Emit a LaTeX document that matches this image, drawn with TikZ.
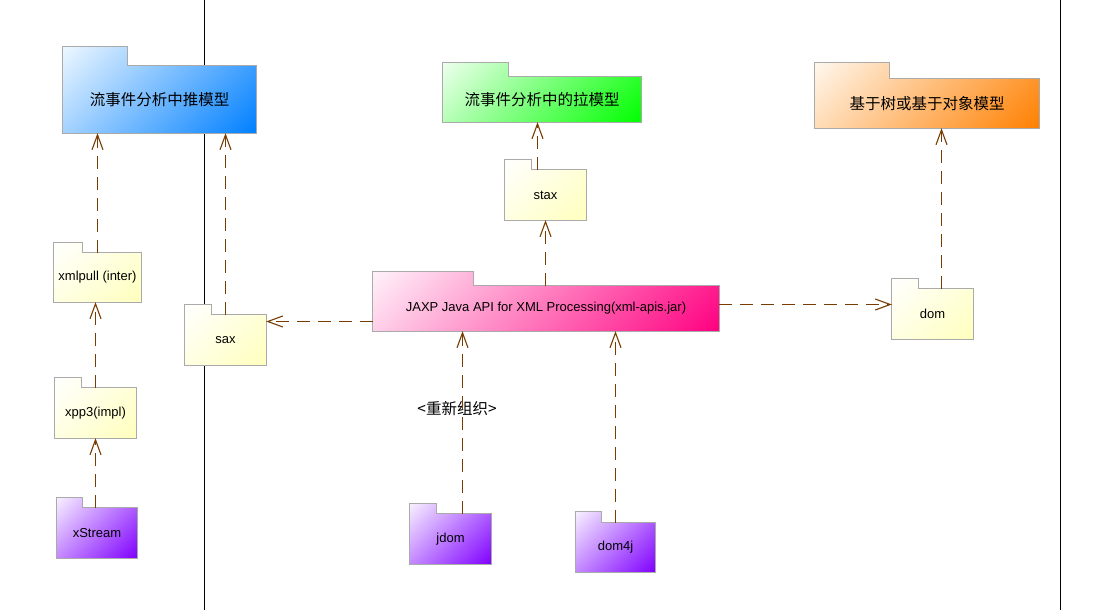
\documentclass[tikz,border=0pt]{standalone}
\usepackage{fontspec}
\setmainfont{Liberation Sans}
\newfontfamily\cjk{Noto Sans CJK SC}
\usetikzlibrary{arrows.meta}
\pgfdeclarelayer{lines}
\pgfdeclarelayer{shapes}
\pgfsetlayers{lines,shapes,main}
\definecolor{pborder}{RGB}{170,170,170}
\definecolor{depcol}{RGB}{120,60,0}
% diagonal (45 degrees in picture space) gradient from (r0,g0,b0) at top-left to (r1,g1,b1) at bottom-right
% #2 = W/(W+H), #3 = H/(W+H)
\newcommand\defpkgshading[9]{%
  \pgfdeclarefunctionalshading{#1}{\pgfpointorigin}{\pgfpoint{100bp}{100bp}}{}{%
    exch 25 sub #2 mul exch 75 exch sub #3 mul add 50 div
    dup 0 lt {pop 0} if dup 1 gt {pop 1} if
    dup dup
    #7 #4 sub mul #4 add
    3 1 roll
    #8 #5 sub mul #5 add
    exch
    #9 #6 sub mul #6 add
  }}
\defpkgshading{shblue}{0.69}{0.31}{0.93}{0.97}{1}{0}{0.5}{1}
\defpkgshading{shgreen}{0.77}{0.23}{0.93}{1}{0.93}{0}{1}{0}
\defpkgshading{shorange}{0.775}{0.225}{1}{0.97}{0.93}{1}{0.5}{0}
\defpkgshading{shpink}{0.854}{0.146}{1}{0.95}{0.98}{1}{0}{0.5}
\defpkgshading{shyellow}{0.57}{0.43}{1}{1}{1}{1}{1}{0.74}
\defpkgshading{shpurple}{0.57}{0.43}{0.97}{0.94}{1}{0.5}{0}{1}
\newcommand\pkgshape[4]{%
  \begin{pgfonlayer}{shapes}
  \path[draw=pborder, line width=1pt, shading=#4, shading angle=0]
    (#1.north west) -- ++(0,-#3) -- ++(#2,0) -- ++(0,#3) -- (#1.north east)
    -- (#1.south east) -- (#1.south west) -- cycle;
  \end{pgfonlayer}}
\begin{document}
\begin{tikzpicture}[x=1pt, y=-1pt,
  pkg/.style={rectangle, inner sep=0pt, text=black, font=\fontsize{13}{15}\selectfont},
  cjkpkg/.style={pkg, font=\cjk\fontsize{15.5}{17}\selectfont},
  depline/.style={draw=depcol, line width=1.2pt, dash pattern=on 13pt off 8pt,
    -{Straight Barb[length=15pt,width=11pt,line width=1.1pt]}},
  sepline/.style={draw=black, line width=1.4pt}]
\useasboundingbox (0,0) rectangle (1116,610);
% separators
\begin{pgfonlayer}{lines}
\coordinate (s1t) at (204.5,0);  \coordinate (s1b) at (204.5,610);
\coordinate (s2t) at (1060.5,0); \coordinate (s2b) at (1060.5,610);
\draw[sepline] (s1t) -- (s1b);
\draw[sepline] (s2t) -- (s2b);
\end{pgfonlayer}
% packages
\node[cjkpkg, minimum width=193pt, minimum height=67pt] (push) at (159.5,99.5) {流事件分析中推模型};
\pkgshape{push}{65}{19}{shblue}
\node[cjkpkg, minimum width=198pt, minimum height=45pt] (pull) at (542,99.5) {流事件分析中的拉模型};
\pkgshape{pull}{66}{14}{shgreen}
\node[cjkpkg, minimum width=224pt, minimum height=49pt] (tree) at (927,103.5) {基于树或基于对象模型};
\pkgshape{tree}{75}{16}{shorange}
\node[pkg, minimum width=81pt, minimum height=50pt] (stax) at (545.5,195) {stax};
\pkgshape{stax}{27}{10}{shyellow}
\node[pkg, minimum width=346pt, minimum height=45pt] (jaxp) at (546,308.5) {JAXP Java API for XML Processing(xml-apis.jar)};
\pkgshape{jaxp}{101}{14}{shpink}
\node[pkg, minimum width=81pt, minimum height=50pt] (sax) at (225.5,340) {sax};
\pkgshape{sax}{27}{10}{shyellow}
\node[pkg, minimum width=81pt, minimum height=50pt] (dom) at (932.5,314) {dom};
\pkgshape{dom}{27}{10}{shyellow}
\node[pkg, minimum width=88pt, minimum height=49pt] (xmlpull) at (97.5,277.5) {xmlpull (inter)};
\pkgshape{xmlpull}{29}{10}{shyellow}
\node[pkg, minimum width=81pt, minimum height=50pt] (xpp3) at (95.5,413) {xpp3(impl)};
\pkgshape{xpp3}{27}{10}{shyellow}
\node[pkg, minimum width=80pt, minimum height=50pt] (xstream) at (97,533) {xStream};
\pkgshape{xstream}{26}{10}{shpurple}
\node[pkg, minimum width=81pt, minimum height=50pt] (jdom) at (450.5,539) {jdom};
\pkgshape{jdom}{27}{10}{shpurple}
\node[pkg, minimum width=79pt, minimum height=49pt] (dom4j) at (615.5,547.5) {dom4j};
\pkgshape{dom4j}{26}{11}{shpurple}
% label
\node[font=\cjk\fontsize{15.5}{17}\selectfont, inner sep=0pt] (reorg) at (457,409) {<重新组织>};
% dependencies
\draw[depline] (xmlpull.north) -- (xmlpull.north |- push.south);
\draw[depline] (xpp3.north) -- (xpp3.north |- xmlpull.south);
\draw[depline] (xpp3.north |- xstream.north) -- (xpp3.south);
\draw[depline] (sax.north) -- (sax.north |- push.south);
\coordinate (jw) at ([yshift=-13pt]jaxp.west);
\draw[depline] (jw) -- (jw -| sax.east);
\draw[depline] (jaxp.north -| stax.south) -- (stax.south);
\coordinate (sn) at ([xshift=-8pt]stax.north);
\draw[depline] (sn) -- (sn |- pull.south);
\coordinate (je) at ([yshift=4pt]jaxp.east);
\draw[depline] (je) -- (je -| dom.west);
\coordinate (dn) at ([xshift=9pt]dom.north);
\draw[depline] (dn) -- (dn |- tree.south);
\coordinate (jn) at ([xshift=12pt]jdom.north);
\draw[depline] (jn) -- (jn |- jaxp.south);
\draw[depline] (dom4j.north) -- (dom4j.north |- jaxp.south);
\end{tikzpicture}
\end{document}
